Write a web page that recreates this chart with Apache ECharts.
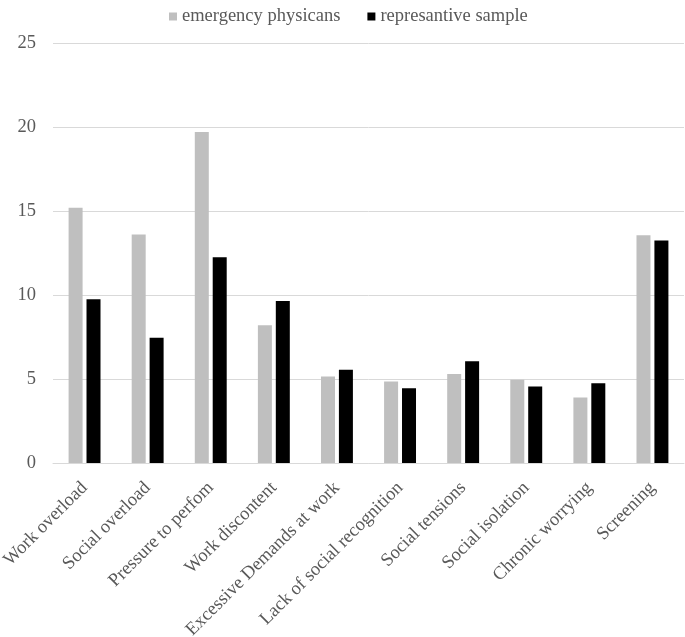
<!DOCTYPE html>
<html>
<head>
<meta charset="utf-8">
<script src="https://cdn.jsdelivr.net/npm/echarts@6/dist/echarts.min.js"></script>
<style>html,body{margin:0;padding:0;background:#fff;}#c{width:685px;height:637px;}</style>
</head>
<body>
<div id="c"></div>
<script>
const categories = ["Work overload","Social overload","Pressure to perfom","Work discontent","Excessive Demands at work","Lack of social recognition","Social tensions","Social isolation","Chronic worrying","Screening"];
const emergencyPhysicians = [15.2, 13.6, 19.7, 8.2, 5.15, 4.85, 5.3, 4.95, 3.9, 13.55];
const representativeSample = [9.75, 7.45, 12.25, 9.65, 5.55, 4.45, 6.05, 4.55, 4.75, 13.25];
const seriesNames = ["emergency physicans", "represantive sample"];

const font = "'Liberation Serif','Times New Roman',serif";
const chart = echarts.init(document.getElementById('c'));
chart.setOption({
  animation: false,
  textStyle: { fontFamily: font },
  legend: {
    top: 2, left: 164,
    itemWidth: 8, itemHeight: 8, itemGap: 27,
    icon: 'rect',
    textStyle: { fontFamily: font, fontSize: 18.5, color: '#595959' },
    data: seriesNames
  },
  grid: { left: 53, right: 1, top: 43, bottom: 174, containLabel: false, outerBoundsMode: 'none' },
  xAxis: {
    type: 'category',
    data: categories,
    axisLine: { lineStyle: { color: '#d9d9d9', width: 1 } },
    axisTick: { show: false },
    axisLabel: { rotate: 45, fontFamily: font, fontSize: 18.5, color: '#595959', margin: 22, interval: 0 }
  },
  yAxis: {
    type: 'value', min: 0, max: 25, interval: 5,
    axisLine: { show: false }, axisTick: { show: false },
    splitLine: { lineStyle: { color: '#d9d9d9', width: 1 } },
    axisLabel: { fontFamily: font, fontSize: 18.5, color: '#595959', margin: 17 }
  },
  series: [
    { name: seriesNames[0], type: 'bar', data: emergencyPhysicians, barWidth: 14, barGap: '28%',
      itemStyle: { color: '#bfbfbf' } },
    { name: seriesNames[1], type: 'bar', data: representativeSample, barWidth: 14,
      itemStyle: { color: '#000000' } }
  ]
});
</script>
</body>
</html>
